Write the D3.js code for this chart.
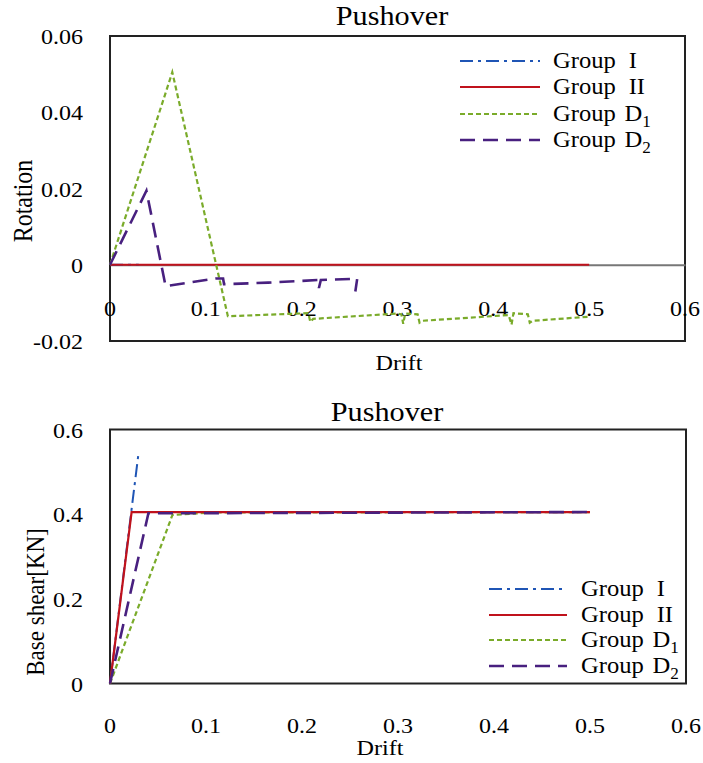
<!DOCTYPE html>
<html><head><meta charset="utf-8">
<script src="https://cdn.jsdelivr.net/npm/d3@7"></script>
<style>body{margin:0;background:#fff}</style>
</head><body>
<svg id="c" width="703" height="763"></svg>
<script>
// ---------- DATA ----------
const xTickValues = [0, 0.1, 0.2, 0.3, 0.4, 0.5, 0.6];
const xTickLabels = ["0", "0.1", "0.2", "0.3", "0.4", "0.5", "0.6"];
const rotTickValues = [-0.02, 0, 0.02, 0.04, 0.06];
const rotTickLabels = ["-0.02", "0", "0.02", "0.04", "0.06"];
const shearTickValues = [0, 0.2, 0.4, 0.6];
const shearTickLabels = ["0", "0.2", "0.4", "0.6"];

const groupNames = ["Group", "Group", "Group", "Group"];
const groupMain = ["I", "II", "D", "D"];
const groupSub = ["", "", "1", "2"];

// Rotation vs drift
const rotDriftI = [0, 0.03];
const rotI = [0, 0];
const rotDriftII = [0, 0.5];
const rotII = [0, 0];
const rotDriftD1 = [0, 0.065, 0.123, 0.207, 0.209, 0.212, 0.300, 0.304, 0.306, 0.308, 0.321, 0.323, 0.326, 0.416, 0.419, 0.421, 0.436, 0.438, 0.441, 0.501];
const rotD1 = [0, 0.0505, -0.0135, -0.0127, -0.0150, -0.0142, -0.0128, -0.0130, -0.0155, -0.0128, -0.0130, -0.0152, -0.0147, -0.0132, -0.0157, -0.0127, -0.0130, -0.0152, -0.0147, -0.0136];
const rotDriftD2 = [0, 0.038, 0.058, 0.110, 0.118, 0.119, 0.165, 0.217, 0.218, 0.220, 0.254, 0.258, 0.256];
const rotD2 = [0, 0.0194, -0.0056, -0.0036, -0.0036, -0.0051, -0.0047, -0.0040, -0.0061, -0.0040, -0.0037, -0.0036, -0.0070];

// Base shear vs drift
const shDriftI = [0, 0.0295];
const shI = [0, 0.540];
const shDriftII = [0, 0.0225, 0.5];
const shII = [0, 0.405, 0.405];
const shDriftD1 = [0, 0.065, 0.105, 0.5];
const shD1 = [0, 0.398, 0.404, 0.405];
const shDriftD2 = [0, 0.040, 0.5];
const shD2 = [0, 0.402, 0.405];

// ---------- STYLE ----------
const colors = ["#1f55b5", "#c0121c", "#7aab2a", "#48207f"];
const dashes = ["13,5,3,5", null, "5,3", "15,8"];
const widths = [2, 2.2, 2.2, 2.6];
const FONT = "'Liberation Serif','Times New Roman',Times,serif";

const svg = d3.select("#c");

function txt(g, x, y, s, size, sx, anchor, rot) {
  const t = g.append("text")
    .attr("transform", `translate(${x},${y}) scale(${sx},1)` + (rot ? ` rotate(${rot})` : ""))
    .attr("font-family", FONT).attr("font-size", size)
    .attr("text-anchor", anchor || "start").attr("fill", "#000");
  if (s !== null) t.text(s);
  return t;
}

function legend(g, x0, x1, ys, tx) {
  groupNames.forEach((n, i) => {
    const l = g.append("line").attr("x1", x0).attr("x2", x1).attr("y1", ys[i]).attr("y2", ys[i])
      .attr("stroke", colors[i]).attr("stroke-width", widths[i]);
    if (dashes[i]) l.attr("stroke-dasharray", dashes[i]);
    const t = txt(g, tx, ys[i] + 7, null, 23, 1.07, "start");
    t.append("tspan").text(n);
    t.append("tspan").attr("dx", groupSub[i] ? 8 : 12).text(groupMain[i]);
    if (groupSub[i]) t.append("tspan").attr("font-size", 16).attr("dy", 6).text(groupSub[i]);
  });
}

function drawSeries(g, x, y, xs, ys, i) {
  const pts = xs.map((d, k) => [d, ys[k]]);
  const line = d3.line().x(d => x(d[0])).y(d => y(d[1]));
  const p = g.append("path").datum(pts).attr("d", line).attr("fill", "none")
    .attr("stroke", colors[i]).attr("stroke-width", widths[i]).attr("stroke-linejoin", "miter");
  if (dashes[i]) p.attr("stroke-dasharray", dashes[i]);
}

// ---------- TOP CHART ----------
{
  const L = 110, R = 685, T = 36, B = 341;
  const x = d3.scaleLinear().domain([0, 0.6]).range([L, R]);
  const y = d3.scaleLinear().domain([-0.02, 0.06]).range([B, T]);
  const g = svg.append("g");
  g.append("rect").attr("x", L).attr("y", T).attr("width", R - L).attr("height", B - T)
    .attr("fill", "none").attr("stroke", "#222").attr("stroke-width", 2);
  // zero axis
  const ax = d3.axisBottom(x).tickValues(xTickValues).tickSize(0).tickFormat("");
  g.append("g").attr("transform", `translate(0,${y(0)})`).call(ax)
    .select(".domain").attr("stroke", "#777").attr("stroke-width", 2);
  xTickValues.forEach((v, k) => txt(g, x(v), 316, xTickLabels[k], 20, 1.2, "middle"));
  rotTickValues.forEach((v, k) => txt(g, 83, y(v) + 8, rotTickLabels[k], 20, 1.2, "end"));
  txt(g, 392, 25, "Pushover", 27, 1.12, "middle");
  txt(g, 399, 370, "Drift", 22, 1.1, "middle");
  txt(g, 32, 201, "Rotation", 24, 1.1, "middle", -90);

  drawSeries(g, x, y, rotDriftI, rotI, 0);
  drawSeries(g, x, y, rotDriftII, rotII, 1);
  drawSeries(g, x, y, rotDriftD1, rotD1, 2);
  drawSeries(g, x, y, rotDriftD2, rotD2, 3);
  legend(g, 460, 540, [61, 87, 114, 140], 553);
}

// ---------- BOTTOM CHART ----------
{
  const L = 110, R = 686, T = 429.5, B = 683.5;
  const x = d3.scaleLinear().domain([0, 0.6]).range([L, R]);
  const y = d3.scaleLinear().domain([0, 0.6]).range([B, T]);
  const g = svg.append("g");
  g.append("rect").attr("x", L).attr("y", T).attr("width", R - L).attr("height", B - T)
    .attr("fill", "none").attr("stroke", "#222").attr("stroke-width", 2);
  xTickValues.forEach((v, k) => txt(g, x(v), 733, xTickLabels[k], 20, 1.2, "middle"));
  shearTickValues.forEach((v, k) => txt(g, 83, y(v) + 8, shearTickLabels[k], 20, 1.2, "end"));
  txt(g, 387, 421, "Pushover", 27, 1.12, "middle");
  txt(g, 380, 755, "Drift", 22, 1.1, "middle");
  txt(g, 44, 602, "Base shear[KN]", 23, 1.05, "middle", -90);

  drawSeries(g, x, y, shDriftI, shI, 0);
  drawSeries(g, x, y, shDriftD1, shD1, 2);
  drawSeries(g, x, y, shDriftII, shII, 1);
  drawSeries(g, x, y, shDriftD2, shD2, 3);
  legend(g, 489, 567, [589, 615, 640, 666], 581);
}
</script>
</body></html>
